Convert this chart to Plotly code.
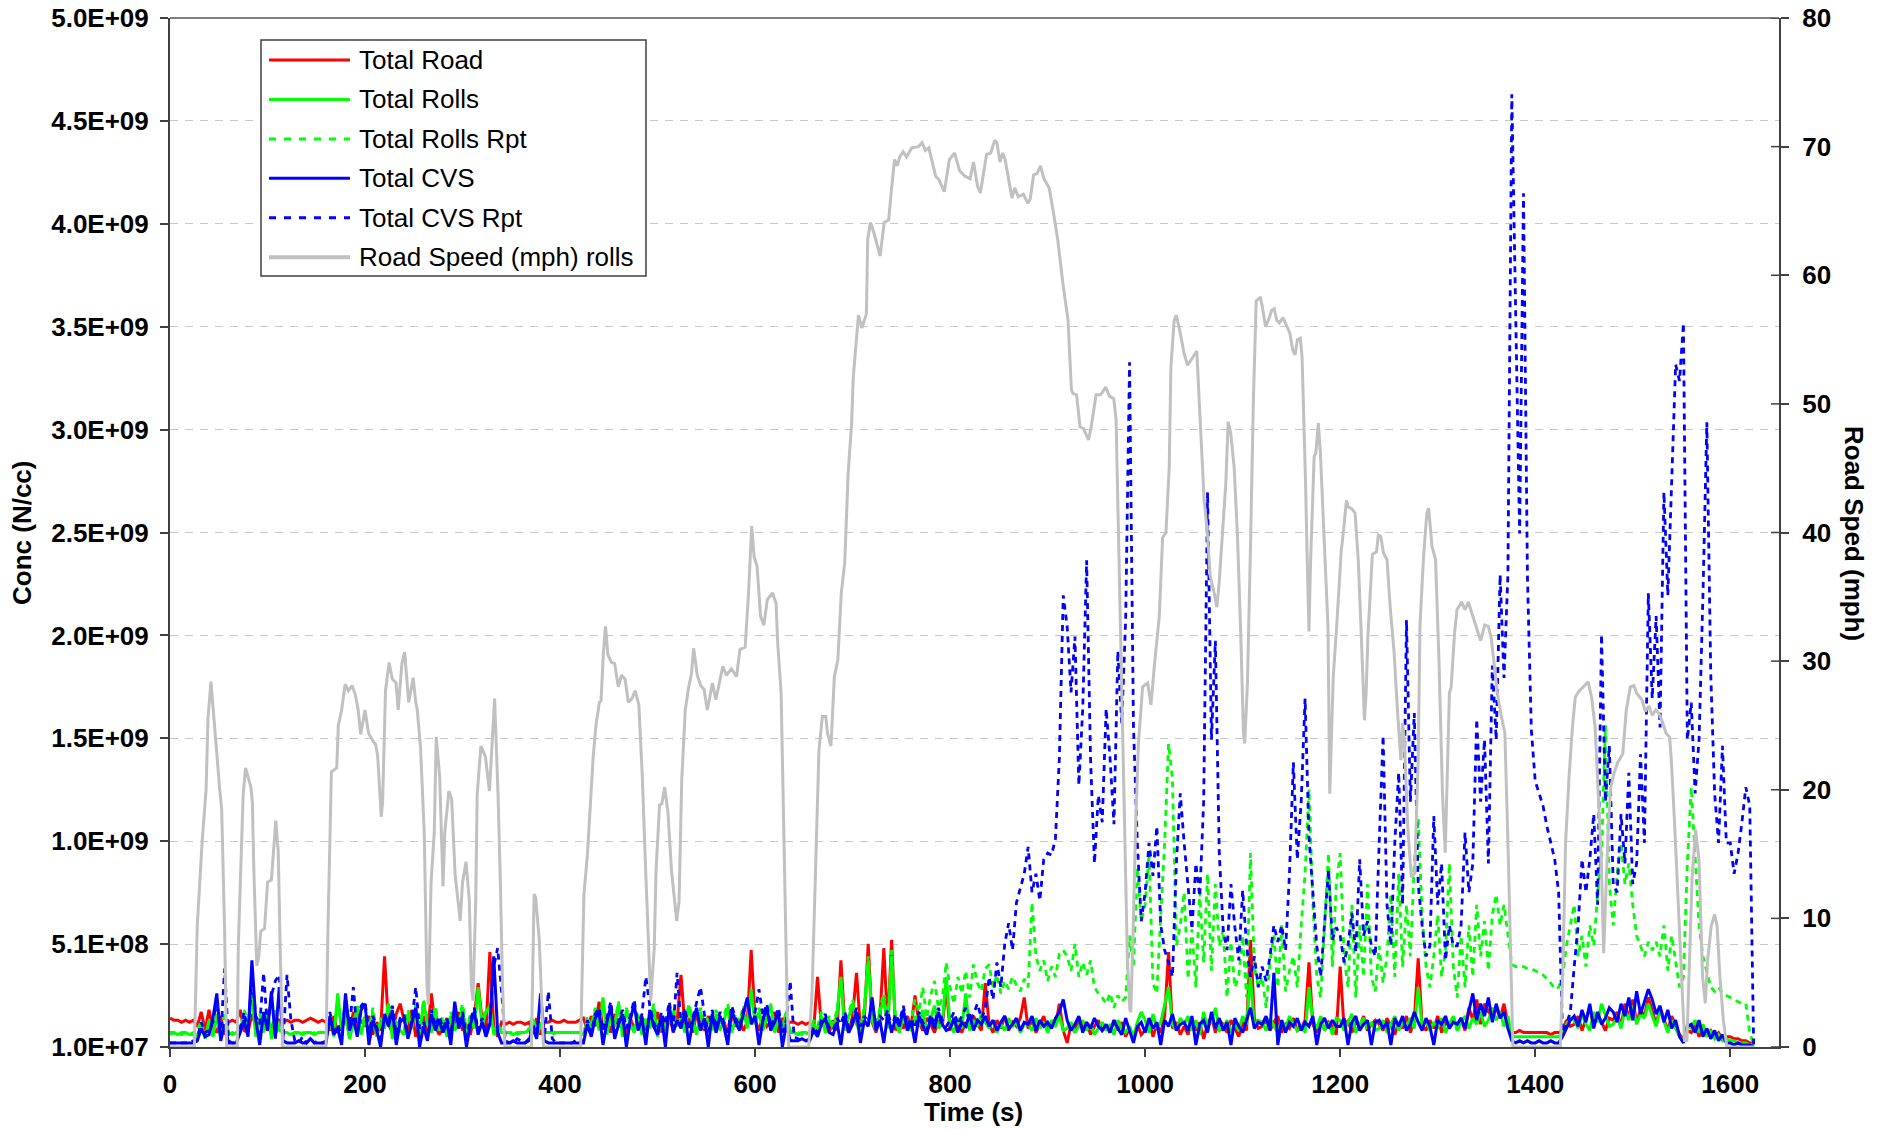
import plotly.graph_objects as go

# Concentration series, sampled every 4 s, in units of 1e7 N/cc
SAMPLE_STEP_S = 4
CONC_UNIT = 1e7

total_road = [
    15,14,14,13,14,13,14,11,18,9, 19,10,8,16,7,13,14,13,19,9, 8,17,11,6,15,9,12,7,14,13,
    14,13,14,14,13,14,15,14,13,14, 13,9,16,8,12,15,7,18,10,14, 11,16,7,13,9,45,12,8,17,22,
    14,9,19,6,12,16,8,27,11,7, 10,15,8,13,18,9,12,7,16,32, 14,9,47,11,6,13,12,13,12,13,
    13,12,13,9,15,7,13,13,14,13, 13,14,13,13,13,14,15,9,16,11, 23,10,14,8,17,11,13,7,15,10,
    12,16,9,14,11,18,8,13,16,9, 13,36,11,15,8,17,12,9,16,12, 10,15,13,8,17,11,14,9,13,48,
    14,9,16,11,13,18,8,15,12,13, 13,12,13,12,13,9,35,11,15,8, 14,9,43,12,8,16,37,10,14,51,
    13,8,15,49,11,53,9,14,10,16, 11,26,13,9,15,12,8,14,11,30, 9,15,11,8,13,10,16,12,9,32,
    12,8,14,10,16,9,13,11,15,25, 10,14,8,12,16,9,13,11,22,9, 3,12,8,15,10,13,7,11,14,9,
    11,8,14,9,13,6,10,4,12,7, 9,14,6,12,8,16,47,10,13,7, 11,7,15,9,13,5,12,16,8,14,
    12,8,14,10,6,13,9,53,15,10, 11,14,9,13,16,8,12,10,15,9, 10,14,42,12,8,15,9,13,11,7,
    40,10,14,8,13,11,16,9,12,14, 12,9,15,11,7,13,10,16,8,14, 44,12,9,14,10,16,8,13,11,15,
    11,15,9,20,14,24,12,22,18,16, 20,15,22,12,8,8,9,8,8,8, 8,8,8,8,7,8,8,9,14,11,
    12,16,9,14,20,11,17,13,9,15, 14,18,11,22,15,24,13,19,16,25, 18,12,20,14,9,16,11,7,5,9,
    8,12,6,10,7,9,6,8,5,6, 6,5,5,4,4,3,3,
]

total_rolls = [
    8,8,7,8,8,7,8,6,12,5, 14,6,17,5,11,8,7,8,10,16, 11,26,6,14,8,19,5,15,9,8,
    8,7,8,8,7,8,8,7,8,8, 8,14,6,27,9,17,5,12,20,7, 15,8,18,6,13,10,22,5,11,9,
    7,17,10,21,6,23,12,8,19,9, 14,6,16,9,12,20,7,15,10,30, 11,18,21,7,9,8,8,8,7,8,
    8,8,9,14,6,12,8,8,8,8, 8,8,8,8,8,8,7,14,9,18, 9,25,7,16,11,22,6,19,12,8,
    16,7,14,10,20,6,15,9,13,18, 11,15,8,21,13,7,18,10,14,9, 17,9,14,20,8,15,11,19,10,29,
    12,18,9,15,21,8,14,10,17,8, 8,7,8,8,7,12,9,16,8,14, 10,17,35,9,15,22,12,8,19,43,
    14,9,18,24,10,45,13,8,16,11, 9,16,11,19,8,14,21,10,13,35, 12,8,15,10,27,9,14,11,17,13,
    10,14,8,12,9,15,11,13,8,12, 12,9,15,10,13,8,14,11,16,9, 10,13,8,11,14,9,12,7,10,13,
    9,12,7,14,10,8,11,6,13,18, 14,8,17,10,13,22,30,12,9,15, 12,16,9,14,7,18,11,13,20,9,
    10,14,8,13,9,16,12,35,11,14, 13,9,15,11,8,14,10,16,12,9, 12,8,30,14,10,16,9,13,7,15,
    14,9,13,17,8,12,15,10,13,9, 10,14,8,12,16,9,13,11,15,10, 30,11,14,9,13,10,15,8,12,16,
    9,13,16,10,15,12,18,11,14,20, 14,18,11,16,6,6,6,6,6,6, 6,6,6,6,6,6,6,8,12,15,
    14,10,17,12,9,18,13,22,16,11, 12,16,10,19,14,21,12,17,15,22, 16,11,19,13,8,14,10,6,4,12,
    10,14,8,12,6,9,5,7,4,5, 4,4,3,3,3,2,2,
]

total_rolls_rpt = [
    7,8,7,7,8,7,7,9,14,6, 12,8,15,6,18,7,8,7,11,19, 13,24,8,17,10,16,7,20,11,8,
    8,7,8,7,8,8,7,8,7,8, 8,16,7,24,10,19,6,14,22,9, 17,9,20,8,15,12,23,7,13,11,
    9,19,12,22,8,24,14,10,21,11, 16,8,18,11,14,22,9,17,12,28, 13,20,19,9,12,9,8,8,8,7,
    8,7,10,16,8,13,8,8,7,8, 8,8,8,8,8,8,7,16,11,20, 11,24,9,18,13,23,8,20,14,10,
    18,9,16,12,22,8,17,11,15,20, 13,17,10,22,15,9,20,12,16,11, 19,11,16,22,10,17,13,21,12,27,
    14,20,11,17,22,10,16,12,18,9, 8,8,7,8,8,14,11,18,9,16, 12,19,33,11,17,24,14,10,21,45,
    16,11,20,27,12,48,15,10,18,13, 14,24,18,30,15,26,33,20,25,42, 30,22,35,27,38,25,41,32,28,39,
    41,30,36,27,33,29,35,31,28,34, 30,71,45,38,43,33,40,35,46,48, 45,38,51,35,42,36,43,30,27,25,
    22,27,20,26,23,25,55,40,88,62, 70,95,32,27,65,100,148,131,50,60, 76,34,58,30,76,42,85,38,80,50,
    58,25,52,30,35,55,25,95,40,30, 35,20,42,55,30,60,28,38,45,30, 60,85,126,70,35,25,60,95,40,80,
    95,45,30,70,25,60,35,80,35,28, 50,32,45,75,35,85,40,70,45,90, 112,65,40,30,45,65,35,48,90,40,
    25,55,30,60,35,70,45,62,38,65, 75,60,70,55,41,40,40,40,39,39, 38,37,36,34,32,29,30,35,50,60,
    70,45,55,40,60,50,75,95,157,80, 60,85,100,80,90,70,55,50,45,52, 48,52,45,60,38,55,42,30,35,90,
    127,95,60,45,38,30,28,30,27,26, 25,24,23,22,22,8,2,
]

total_cvs = [
    3,3,3,3,3,3,3,4,10,6, 7,15,27,4,12,3,3,3,8,14, 6,43,14,2,18,9,28,5,30,4,
    3,3,3,4,3,3,5,3,3,3, 3,16,7,10,2,27,9,15,6,19, 22,2,14,9,1,17,11,19,2,13,
    15,5,12,20,1,11,4,17,9,14, 8,13,2,23,10,16,1,12,18,7, 13,6,12,45,8,3,3,3,4,3,
    3,3,4,10,5,27,4,3,3,3, 3,3,3,3,3,3,3,12,6,15, 18,2,13,21,5,12,17,1,14,22,
    9,15,2,19,11,7,16,1,21,8, 14,10,18,2,13,20,9,15,1,17, 8,16,11,2,19,13,9,17,25,12,
    16,2,14,20,9,13,18,1,12,4, 4,4,5,4,4,9,6,12,15,8, 7,13,2,16,8,12,18,3,14,11,
    25,9,14,3,17,8,15,11,19,9, 13,3,16,11,7,15,10,18,12,9, 10,15,8,13,11,17,9,14,12,16,
    11,14,9,13,16,10,12,15,9,13, 12,16,9,14,11,13,10,15,18,24, 14,9,12,16,8,13,10,15,11,9,
    12,8,14,10,7,15,9,3,11,13, 8,15,10,13,2,14,11,17,9,12, 13,9,16,2,12,14,8,18,10,15,
    9,13,2,15,11,8,14,20,10,13, 12,16,9,37,2,14,8,13,11,15, 9,13,11,16,2,12,15,10,14,11,
    11,15,2,13,16,9,12,14,2,13, 14,10,13,2,15,11,16,9,12,18, 13,9,15,11,2,14,12,16,10,13,
    12,15,10,18,27,14,22,16,25,13, 22,15,18,10,4,3,4,3,4,3, 3,4,3,3,4,3,3,6,10,14,
    16,11,19,13,22,10,18,12,15,20, 18,13,22,16,25,14,28,17,23,29, 24,17,21,13,19,10,14,6,3,11,
    12,8,14,6,10,5,9,4,7,3, 3,2,3,2,2,2,1,
]

total_cvs_rpt = [
    3,3,3,3,3,3,4,5,13,8, 9,13,24,5,39,4,3,3,10,18, 8,35,16,12,37,10,26,33,36,5,
    36,14,4,3,6,3,5,3,4,3, 4,18,8,12,6,25,10,30,7,21, 23,8,16,11,5,15,13,21,7,15,
    17,6,14,30,10,13,5,19,11,16, 10,15,7,21,12,18,6,14,20,9, 15,8,14,40,49,28,4,3,3,5,
    4,3,5,12,7,22,6,28,5,3, 3,3,3,3,4,3,4,14,8,17, 20,9,15,23,6,14,19,10,16,24,
    11,17,35,21,13,9,18,12,23,10, 37,12,20,9,15,22,30,17,8,19, 10,18,13,8,21,15,11,19,24,14,
    18,29,16,22,11,15,20,8,14,33, 6,5,4,4,5,11,8,14,17,10, 9,15,12,18,10,14,20,11,16,13,
    23,11,16,14,19,10,17,13,21,11, 15,10,18,13,9,17,12,20,14,11, 14,18,12,16,20,13,17,22,15,19,
    35,24,42,30,51,61,48,71,78,85, 98,76,85,72,92,95,94,102,141,220, 205,173,200,128,165,237,141,90,123,110,
    165,141,109,193,158,208,333,157,100,62, 76,100,84,108,60,48,42,35,90,124, 100,80,58,90,74,120,270,150,198,95,
    58,48,80,59,43,77,50,35,45,30, 40,33,45,60,52,60,48,85,139,92, 120,170,103,76,50,35,60,87,53,59,
    55,42,50,66,47,92,55,62,50,45, 100,152,70,50,100,134,70,208,120,163, 80,60,45,50,113,70,90,43,60,50,
    50,60,105,76,90,160,120,150,90,186, 150,230,180,230,463,360,250,415,230,155, 130,124,118,108,100,92,76,8,12,18,
    40,60,92,76,92,114,70,201,120,147, 80,76,114,90,134,80,90,143,100,221, 170,210,156,270,220,280,332,324,352,150,
    168,124,150,220,304,182,124,100,147,100, 100,85,95,110,127,118,2,
]

# Road speed (mph) on the secondary axis
speed_time_s = [
    0,25,28,33,37,39,42,46,51,53,56,58,69,70,75,77.5,83,84.5,86,89,91,93,97,100,104,108.5,111,113,115.5,
    160,162,165.5,171,172.6,176,179.6,183,186.7,190,193,195.5,200,203.6,208,211,213,216.6,218,221,224.7,
    228,231.8,234,237.8,240.6,244.8,249.4,252,253.6,257,260.7,263.5,265,267.7,271,273,276.5,280,281.8,286,
    288.8,292.4,297.6,300,303.6,307,309,310.7,313.5,315,318.8,323.4,327.6,332.9,336.4,338.8,341,343.4,
    370.6,373.4,375,378.7,383,421,424.5,428,430.4,434,436.8,440.3,442,444.5,446.6,449,452.6,456,459.7,463,
    466.7,470,473.8,477,480.8,484.3,487.8,491.4,493,496.6,498.4,502,504.4,507.2,510.7,514.3,517.8,519.6,522,
    524.8,528.4,531.9,534.7,537,540.7,544.2,547.7,551,556.3,559.8,566.9,570.4,575.7,581,584.5,589.8,593.3,
    596.5,599,602,605.6,609,612.6,617.9,621.5,623.2,626.7,628.5,630.3,633,634.5,655,658.4,662,665.5,669,
    672.5,674.3,677.8,681.3,684.9,688.4,691.9,695.4,699,700.7,703.5,706,709.5,714.1,715.5,718.3,721.8,728.2,
    732.4,737,739.5,743,745.8,748.3,751.8,755.3,760.6,767.6,771.2,774.7,778.2,785.2,788.8,794,799.3,804.6,
    809.9,815.2,820.5,824,828.2,831,837.4,841.6,845.8,848,851.1,853.9,856.4,861,863.4,866.3,869.8,875.1,
    879.7,882.1,885.6,889.2,892.7,896.2,901.5,905,910.3,915.6,920.9,924.4,926.1,929.7,933.2,936.7,941.9,
    944.6,949.7,954.3,959.6,963.3,967.8,970.2,972,973.7,976,979,981.8,984.3,985.3,987.8,990.2,993.1,997.4,
    1002.6,1006,1009.4,1014.5,1017.9,1021.3,1024.7,1026.4,1029.8,1031.9,1036,1040,1043.5,1046.9,1050.3,
    1053,1055.4,1057.8,1060.5,1063.9,1066.7,1070.8,1073.5,1075.9,1079.3,1082.7,1085.1,1087.8,1091.2,1094.6,
    1098,1100.8,1102.1,1104.9,1108.3,1111,1113.9,1118.2,1120,1123.5,1126.4,1129.9,1132.4,1134.9,1137.7,
    1141.3,1144.9,1148.4,1151.3,1153.7,1156.2,1159.1,1160.9,1162.6,1164.4,1166.2,1168,1169.7,1173.3,1175.1,
    1177.6,1179.7,1182.2,1184,1187.5,1189.3,1192.9,1196.4,1201,1203.5,1206.4,1208.2,1212.4,1215.3,1218.5,
    1221.3,1224.9,1226.6,1228.4,1233,1237.3,1239.1,1241.6,1244.4,1248,1251.5,1255.1,1258.7,1262.2,1264,
    1265.8,1269.3,1272.9,1276.4,1280,1281.8,1285.3,1288.8,1290.7,1294.2,1297.8,1301.3,1304.9,1307.7,1310.2,
    1312,1313.8,1317.3,1319.8,1324.4,1328,1331.5,1335.1,1340.4,1344,1348.3,1351.8,1354.7,1358.2,1361.8,
    1365.3,1368.9,1372.5,1375.3,1377.1,1425.8,1428.6,1431.1,1434.7,1438.2,1441.1,1444.3,1447.1,1450.7,
    1454.3,1457.8,1461.4,1464.9,1467.8,1470.2,1472,1474.9,1477.4,1480.9,1484.5,1489.8,1493.4,1497.6,1501.2,
    1504,1509.4,1512.9,1516.5,1520,1523.6,1527.1,1530.7,1534.2,1537.8,1539.6,1543.1,1546.7,1550.3,1553.1,
    1555.6,1558.4,1560.9,1564.5,1568,1571.6,1574.4,1576.9,1580.5,1584,1586.5,1589.4,1592.9,1596.5,1625,
]
speed_mph = [
    0,0,9.5,16,20,25.6,28.4,24.4,20,18.5,9,0,0,7.7,19.6,21.7,20.2,19,13.7,6.3,7,9,9.2,12.8,13,17.6,15.2,7.7,0,
    0,9.2,21.4,21.7,25,26.2,28.2,27.7,28.1,27.4,26.2,24.3,26.2,24.4,23.8,23.5,22.6,17.9,19,27.7,29.9,
    28.6,28.3,26.2,29.8,30.7,26.8,28.7,26.8,26.2,23.2,16.7,4.8,3.3,12.8,16.7,24.1,21.1,12.5,16.7,19.9,
    19.3,13.4,9.8,12.8,14.4,11.3,4.8,3.6,11.3,19.6,23.4,22.6,19.9,27.1,19.6,12.8,4.8,0,
    0,11.9,11.6,8.3,0,0,11.9,14.9,17.9,22.6,25,26.8,26.9,30.7,32.7,30.5,29.9,29.8,28,28.9,
    28.6,26.8,27.1,27.7,26.6,21.1,13.7,6,3.6,7.7,13.7,18.8,18.9,20.2,18.2,13.7,10.7,9.8,11.3,
    20.8,26.2,28,29,31,28.9,28.1,27.8,26.2,28.3,27,29.6,28.9,29.4,28.8,30.9,31.1,35.3,
    40.5,38.1,37.4,33.5,32.8,34.8,35.3,34.5,31.4,27.5,19.7,12,2.9,0,0,4.2,14.5,23.1,25.7,
    25.7,24.4,23.4,28.8,30.1,35.3,37.6,44.6,48.5,52.1,55,56.9,55.9,57,62.8,64.1,63.3,61.5,
    64.1,64.3,66.4,69,68.5,69.2,69.6,69.2,69.9,70,70.3,69.7,69.9,67.7,67.4,66.5,69,69.5,
    68.1,67.7,67.5,68.8,66.9,66.4,69.4,69.5,70.5,70.3,68.8,69.5,69,66.9,66,66.8,66.1,66.3,
    65.6,65.9,67.8,67.9,68.5,67.5,66.8,65.3,62.8,59.4,56.5,51.1,50.8,50.7,48.2,48.1,47.2,
    48.2,50.7,50.7,51.3,50.6,50.4,48.8,42.5,37.5,29.6,17.1,6.8,2.9,2.7,9.4,17.1,23.6,28,
    28.3,26.6,29.6,33.5,39.6,40,45.1,52.9,56.5,56.9,55.5,53.9,53,53.4,53.7,
    54.1,50.3,46.4,42.5,39.9,36.6,35.3,34.2,36.1,39.9,43.8,48.6,47.7,45.1,39.9,
    32.2,24.4,23.6,28.3,39.9,50.3,58,58.3,57.6,56,56.5,57.3,57.4,56.5,56.3,
    56.7,56.1,55.5,54.2,53.8,55,55.1,53.7,49.3,44.1,37.9,32.3,37.9,45.9,46.2,
    48.5,46.2,41.5,37.9,32.7,19.7,28.8,32.7,38.5,40.2,42.5,42,41.8,41.5,37.9,
    32.7,25.4,27.5,31.9,38.3,38.5,39.8,39.7,38.4,37.9,34,30.9,26.2,22.3,25.2,
    23.9,17.1,13.2,13.5,22.3,32.7,37.9,41.5,41.9,38.9,37.9,30.1,19.7,15.1,22.3,
    27.5,28,32.2,34,34.6,34,34.6,33.7,32.4,31.6,32.8,32.7,31.9,29.8,27.2,
    25.7,24.4,14.5,4.2,0,0,6.8,15.8,21,24.9,27.2,27.6,27.8,28.1,
    28.4,27.2,24.9,19.7,14.5,7.3,10.7,17.1,20.2,21.3,22.1,22.8,26.2,28,28.1,
    27.5,27,26.1,26.5,25.8,26.2,25.9,25.2,24.4,24.1,22.3,17.1,10.7,4.2,0.5,
    0.5,6.8,13.2,16.9,14.5,5.5,3.4,6.8,9.4,10.3,9.4,5.5,2.1,0,0,
]

# Axis settings
TIME_RANGE = [0, 1650]
TIME_TICKS = [0, 200, 400, 600, 800, 1000, 1200, 1400, 1600]
CONC_RANGE = [1.0e7, 5.0e9]
CONC_TICK_TEXT = ["1.0E+07", "5.1E+08", "1.0E+09", "1.5E+09", "2.0E+09", "2.5E+09",
                  "3.0E+09", "3.5E+09", "4.0E+09", "4.5E+09", "5.0E+09"]
SPEED_RANGE = [0, 80]
SPEED_TICKS = [0, 10, 20, 30, 40, 50, 60, 70, 80]

SERIES = [
    ("Total Road", total_road, "#FF0000", "solid"),
    ("Total Rolls", total_rolls, "#00FF00", "solid"),
    ("Total Rolls Rpt", total_rolls_rpt, "#00FF00", "6px,5px"),
    ("Total CVS", total_cvs, "#0000FF", "solid"),
    ("Total CVS Rpt", total_cvs_rpt, "#0000FF", "6px,5px"),
]
SPEED_NAME = "Road Speed (mph) rolls"
SPEED_COLOR = "#C0C0C0"

FONT = "Liberation Sans, Arial, sans-serif"
AXIS_COLOR = "#404040"

W, H = 1880, 1129
ML, MR, MT, MB = 170, 101, 18, 82
PW, PH = W - ML - MR, H - MT - MB

fig = go.Figure()

for name, values, color, dash in SERIES:
    times = [i * SAMPLE_STEP_S for i in range(len(values))]
    width = 3 if dash == "solid" else 2.8
    fig.add_trace(go.Scatter(
        x=times, y=[v * CONC_UNIT for v in values], name=name, mode="lines",
        line=dict(color=color, width=width, dash=dash), showlegend=False, yaxis="y",
    ))

fig.add_trace(go.Scatter(
    x=speed_time_s, y=speed_mph, name=SPEED_NAME, mode="lines",
    line=dict(color=SPEED_COLOR, width=3), showlegend=False, yaxis="y2",
))

conc_step = (CONC_RANGE[1] - CONC_RANGE[0]) / (len(CONC_TICK_TEXT) - 1)
conc_tickvals = [CONC_RANGE[0] + k * conc_step for k in range(len(CONC_TICK_TEXT))]

tick_font = dict(family=FONT, size=26, color="black", weight="bold")

fig.update_layout(
    width=W, height=H, autosize=False,
    margin=dict(l=ML, r=MR, t=MT, b=MB, pad=0, autoexpand=False),
    paper_bgcolor="white", plot_bgcolor="white",
    showlegend=False,
    xaxis=dict(
        range=TIME_RANGE, tickvals=TIME_TICKS, ticks="outside", ticklen=8, tickwidth=1.5,
        tickcolor=AXIS_COLOR, showline=True, linecolor=AXIS_COLOR, linewidth=2,
        showgrid=False, zeroline=False, tickfont=tick_font, ticklabelstandoff=5,
    ),
    yaxis=dict(
        range=CONC_RANGE, tickvals=conc_tickvals, ticktext=CONC_TICK_TEXT,
        ticks="outside", ticklen=8, tickwidth=1.5, tickcolor=AXIS_COLOR,
        showline=True, linecolor=AXIS_COLOR, linewidth=2,
        showgrid=True, gridcolor="#C8C8C8", gridwidth=1.3, griddash="8px,7px",
        zeroline=False, tickfont=tick_font, ticklabelstandoff=6,
    ),
    yaxis2=dict(
        range=SPEED_RANGE, tickvals=SPEED_TICKS, overlaying="y", side="right",
        ticks="outside", ticklen=8, tickwidth=1.5, tickcolor=AXIS_COLOR,
        showline=True, linecolor=AXIS_COLOR, linewidth=2,
        showgrid=False, zeroline=False, tickfont=tick_font, ticklabelstandoff=8,
    ),
)

shapes = []
# top frame line
shapes.append(dict(type="line", xref="paper", yref="paper", x0=0, x1=1, y0=1, y1=1,
                   line=dict(color="#808080", width=2)))
# inner half of the crossing ticks on the speed axis
inner = 8 / PW
for v in SPEED_TICKS:
    shapes.append(dict(type="line", xref="paper", yref="y2", x0=1 - inner, x1=1, y0=v, y1=v,
                       line=dict(color=AXIS_COLOR, width=1.5)))


def px_x(px):
    return (px - ML) / PW


def px_y(py):
    return (H - MB - py) / PH


# legend box
shapes.append(dict(type="rect", xref="paper", yref="paper",
                   x0=px_x(261), x1=px_x(646), y0=px_y(276), y1=px_y(40),
                   fillcolor="white", line=dict(color=AXIS_COLOR, width=1.5), layer="above"))

legend_items = [(n, c, d, 3) for n, _, c, d in SERIES] + [(SPEED_NAME, SPEED_COLOR, "solid", 4)]
annotations = []
for k, (name, color, dash, width) in enumerate(legend_items):
    yc = 60 + 39.45 * k
    sample_dash = "7px,8px" if dash != "solid" else "solid"
    shapes.append(dict(type="line", xref="paper", yref="paper",
                       x0=px_x(269), x1=px_x(350), y0=px_y(yc), y1=px_y(yc),
                       line=dict(color=color, width=width, dash=sample_dash), layer="above"))
    annotations.append(dict(text=name, xref="paper", yref="paper", x=px_x(357), y=px_y(yc),
                            xanchor="left", yanchor="middle", showarrow=False,
                            font=dict(family=FONT, size=26, color="black")))

title_font = dict(family=FONT, size=26, color="black", weight="bold")
annotations.append(dict(text="Time (s)", xref="paper", yref="paper", x=px_x(973), y=px_y(1112),
                        xanchor="center", yanchor="middle", showarrow=False, font=title_font))
annotations.append(dict(text="Conc (N/cc)", xref="paper", yref="paper", x=px_x(22), y=px_y(533),
                        xanchor="center", yanchor="middle", showarrow=False, textangle=-90,
                        font=title_font))
annotations.append(dict(text="Road Sped (mph)", xref="paper", yref="paper", x=px_x(1854), y=px_y(533),
                        xanchor="center", yanchor="middle", showarrow=False, textangle=90,
                        font=title_font))

fig.update_layout(shapes=shapes, annotations=annotations)

fig.write_html("out.html")
